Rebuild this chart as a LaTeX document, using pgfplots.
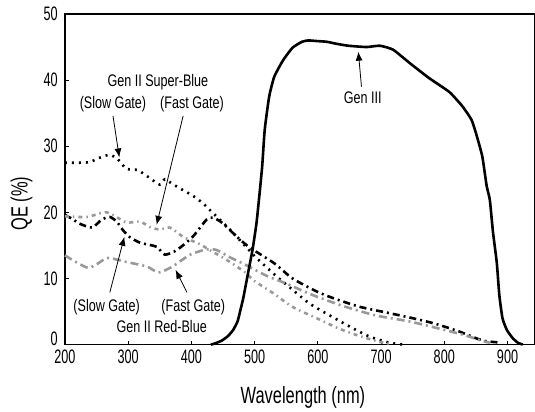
\documentclass[border=0pt]{standalone}
\usepackage{fontspec}
\setmainfont{Liberation Sans}[FakeStretch=0.75]
\newfontfamily\tickfont{Liberation Sans}[FakeStretch=0.65]
\newfontfamily\annfont{Liberation Sans}[FakeStretch=0.75]
\newfontfamily\labfont{Liberation Sans}[FakeStretch=0.7]
\usepackage{pgfplots}
\pgfplotsset{compat=1.18}
\usetikzlibrary{arrows.meta}

\begin{document}
\begin{tikzpicture}
\begin{axis}[
  width=470pt, height=331pt, scale only axis,
  xmin=200, xmax=942.5, ymin=0, ymax=50,
  xtick={200,300,...,900}, ytick={10,20,...,50},
  extra y ticks={0},
  extra y tick style={yticklabel style={yshift=6pt}},
  tick align=inside, xtick pos=bottom, ytick pos=left,
  major tick length=4pt,
  axis line style={line width=1.2pt},
  every tick/.style={black, line width=1pt},
  tick label style={font=\tickfont\fontsize{19.5}{20}\selectfont, inner sep=0pt},
  yticklabel style={xshift=-7pt},
  xticklabel style={yshift=-5pt},
  /pgf/number format/assume math mode=true,
  /pgf/number format/1000 sep={},
  xlabel={Wavelength (nm)}, ylabel={QE (\%)},
  every axis x label/.style={at={(rel axis cs:0.507,0)}, yshift=-59pt, anchor=base,
    font=\labfont\fontsize{23.5}{24}\selectfont},
  every axis y label/.style={at={(rel axis cs:0,0.426)}, xshift=-43.5pt, rotate=90,
    anchor=center, font=\labfont\fontsize{23.5}{24}\selectfont},
  every axis plot/.append style={line width=2.6pt, smooth, tension=0.4},
  clip=false,
]
% Gen II Super-Blue, slow gate
\addplot[black, dash pattern=on 2pt off 5pt] coordinates {
(200,27.5)(219,27.5)(239,27.6)(256,28.3)(271,28.7)(284,28.0)(297,26.6)(315,26.4)
(331,25.4)(350,24.2)(358,25.0)(370,24.3)(386,23.4)(401,22.6)(418,21.4)(434,19.9)
(461,17.4)(492,14.2)(503,13.1)(535,10.3)(560,8.3)(587,6.2)(619,4.4)(651,2.7)
(682,1.2)(713,0.3)(735,0)
};
% Gen II Red-Blue, slow gate
\addplot[black, dash pattern=on 7pt off 4pt on 2pt off 4pt] coordinates {
(200,19.6)(212,19.0)(223,18.3)(243,17.7)(258,18.9)(271,19.3)(282,18.6)(291,17.4)
(302,16.3)(319,15.4)(345,14.8)(358,13.6)(377,14.3)(402,16.3)(424,18.9)(434,19.2)
(449,18.4)(472,16.3)(492,14.7)(531,12.3)(560,10.0)(599,8.0)(628,6.9)(667,5.7)
(706,4.9)(745,4.1)(784,3.2)(823,2.0)(852,0.9)(867,0.5)(890,0.3)
};
% Gen II Super-Blue, fast gate
\addplot[black!40, dash pattern=on 4pt off 4pt on 1.5pt off 4pt] coordinates {
(200,19.4)(235,19.3)(266,20.0)(297,18.5)(319,18.6)(334,17.8)(350,17.4)(366,17.7)
(387,16.3)(413,15.2)(429,14.3)(456,12.8)(487,10.8)(497,9.8)(529,7.8)(560,5.7)
(598,4.0)(634,2.4)(666,1.3)(698,0.4)(716,0.1)
};
% Gen II Red-Blue, fast gate
\addplot[black!40, dash pattern=on 8pt off 4pt on 2pt off 4pt] coordinates {
(200,13.5)(219,12.4)(237,11.6)(251,12.2)(268,13.1)(297,12.5)(330,11.8)(348,10.9)
(370,11.8)(398,13.6)(424,14.4)(440,14.3)(461,13.2)(487,12.0)(519,10.4)(551,9.2)
(589,7.6)(641,5.8)(692,4.4)(745,3.5)(797,2.3)(833,1.4)(862,0.5)(872,0.3)
};
% Gen III
\addplot[black, solid, tension=0.3] coordinates {
(431,0)(438,0.2)(448,0.6)(458,1.3)(466,2.2)(473,3.5)(477,5)(482,7)(487,9.5)
(492,12)(497,14.5)(503,18.4)(508,23)(512,27)(516,32.5)(523,37.5)(531,40.5)
(545,43)(560,44.9)(575,45.8)(585,46)(599,45.9)(614,45.8)(629,45.5)(648,45.2)
(677,45)(698,45.2)(719,44.6)(745,42.6)(776,40.3)(808,38.2)(829,36)(843,34)
(850,32)(860,28.5)(867,24)(872,21.9)(877,17)(883,12.4)(887,7.5)(892,4)
(899,2.2)(908,1.0)(916,0.3)(924,0)
};

% margins of the picture
\path (rel axis cs:0,0) ++(-65pt,-63pt);
\path (rel axis cs:1,1) ++(0pt,14pt);

\begin{scope}[every node/.style={font=\annfont\fontsize{16.8}{18}\selectfont, inner sep=1pt}]
\node at (axis cs:347,39.7) {Gen II Super-Blue};
\node at (axis cs:276,36.3) {(Slow Gate)};
\node at (axis cs:401,36.3) {(Fast Gate)};
\node at (axis cs:266,5.7) {(Slow Gate)};
\node at (axis cs:403,5.7) {(Fast Gate)};
\node at (axis cs:353,2.7) {Gen II Red-Blue};
\node at (axis cs:671,37.3) {Gen III};
\end{scope}
\begin{scope}[line width=0.8pt, -{Latex[length=9pt,width=7pt]}]
\draw (axis cs:276,34.6) -- (axis cs:286,28.3);
\draw (axis cs:387,34.6) -- (axis cs:345,18.1);
\draw (axis cs:271,7.9) -- (axis cs:294,16.3);
\draw (axis cs:393,7.9) -- (axis cs:375,11.3);
\draw (axis cs:669,39.0) -- (axis cs:664,44.3);
\end{scope}
\end{axis}
\end{tikzpicture}
\end{document}
